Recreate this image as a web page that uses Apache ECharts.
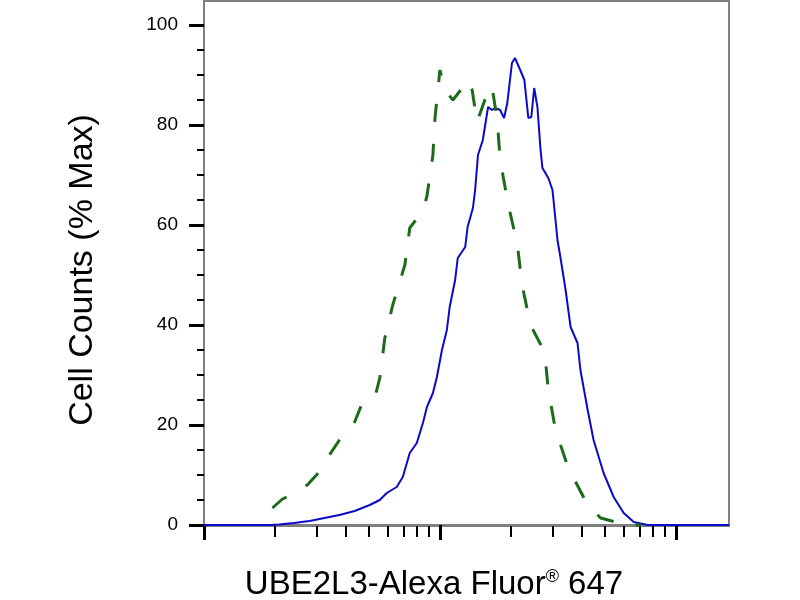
<!DOCTYPE html>
<html>
<head>
<meta charset="utf-8">
<script src="https://cdn.jsdelivr.net/npm/echarts@6/dist/echarts.min.js"></script>
<style>
  html, body { margin: 0; padding: 0; background: #fff; }
  #chart { width: 800px; height: 600px; }
</style>
</head>
<body>
<div id="chart"></div>
<script>
// fluorescence axis (log) range
const X_MIN = 10;
const X_MAX = 1680;
const X_MAJOR_TICKS = [10, 100, 1000];
const X_MINOR_TICKS = [20, 30, 40, 50, 60, 70, 80, 90, 200, 300, 400, 500, 600, 700, 800, 900];

// % Max axis
const Y_MIN = -0.2;
const Y_MAX = 104.8;
const Y_LABELS = [0, 20, 40, 60, 80, 100];
const Y_MINOR_TICKS = [5, 10, 15, 25, 30, 35, 45, 50, 55, 65, 70, 75, 85, 90, 95];

// stained sample (blue, solid)
const BLUE_X = [10, 14.1, 18.9, 20.8, 24.1, 28, 32.4, 37.5, 43.5, 50.4, 55.6, 59.5, 65.6, 69.6,
  74.5, 79.8, 84.7, 88.1, 93.4, 97.1, 102, 107, 110, 116, 119, 128, 131, 138, 141, 145, 152,
  160, 166, 171, 180, 187, 193, 202, 208, 219, 228, 237, 244, 251, 259, 267, 272, 288, 300,
  315, 324, 341, 358, 383, 394, 423, 448, 494, 545, 601, 663, 760, 1050, 1680];
const BLUE_Y = [0, 0, 0, 0.1, 0.4, 0.8, 1.4, 2.0, 2.8, 4.0, 5.0, 6.4, 7.6, 9.6,
  14.4, 16.4, 20.4, 23.6, 26.4, 29.6, 35, 39, 43.6, 49, 53.4, 55.6, 59.6, 63.4, 67, 74, 77,
  83.6, 83, 83.4, 83, 81.4, 84.4, 92.4, 93.4, 91, 89, 81.4, 81.6, 87.4, 83.6, 75, 71.4, 69.4, 67,
  57, 53.6, 47, 39.6, 36.4, 31, 23, 17, 10.4, 5.6, 2.4, 0.6, 0, 0, 0];

// control (green, dashed)
const GREEN_X = [19.5, 21.5, 23.5, 27.4, 30.8, 34, 37.5, 43.5, 46.5, 52.9, 55.6, 58.4, 63.1,
  71, 74.5, 85, 88.1, 93.4, 95.3, 100, 105, 113.5, 121.6, 131.5, 137, 143.6, 155, 166, 175,
  180, 195, 213, 223, 242, 272, 280, 288, 309, 350, 423, 480, 556, 645, 710];
const GREEN_Y = [3.4, 5.2, 6, 8, 10.6, 14, 17, 20.6, 24, 25.4, 29.4, 37.4, 44,
  52, 59.4, 63, 65.8, 74, 81.4, 91, 87, 85, 86.8, 89, 87, 80.6, 85, 87.8, 81,
  73, 64, 56, 48, 40, 35.4, 33, 27, 19, 11.4, 4, 1.4, 0.6, 0, 0];

const zip = (xs, ys) => xs.map((x, i) => [x, ys[i]]);

const labelFont = "'Liberation Sans', Arial, sans-serif";
const titleFont = "'Liberation Sans', Arial, sans-serif";
const GRAY = '#808080';

// tick-only axis sitting on the log of the values
function tickAxis(values, length, width) {
  return {
    type: 'value',
    min: Math.log10(X_MIN),
    max: Math.log10(X_MAX),
    position: 'bottom',
    axisLine: { show: false },
    axisTick: {
      show: true, length: length,
      customValues: values.map(v => Math.log10(v)),
      lineStyle: { color: '#000', width: width }
    },
    axisLabel: { show: false },
    splitLine: { show: false }
  };
}

const myChart = echarts.init(document.getElementById('chart'));

const option = {
  animation: false,
  backgroundColor: '#fff',
  grid: {
    left: 204, right: 71, top: 1, bottom: 74,
    show: true, borderColor: GRAY, borderWidth: 2
  },
  xAxis: [
    {
      type: 'log',
      logBase: 10,
      min: X_MIN,
      max: X_MAX,
      axisLine: { show: true, lineStyle: { color: GRAY, width: 2 } },
      axisTick: { show: false },
      axisLabel: { show: false },
      splitLine: { show: false }
    },
    tickAxis(X_MAJOR_TICKS, 15, 3),
    tickAxis(X_MINOR_TICKS, 11, 2)
  ],
  yAxis: [
    {
      type: 'value',
      min: Y_MIN,
      max: Y_MAX,
      axisLine: { show: true, lineStyle: { color: GRAY, width: 2 } },
      axisTick: {
        show: true, length: 15, customValues: Y_LABELS,
        lineStyle: { color: '#000', width: 3 }
      },
      axisLabel: {
        show: true, customValues: Y_LABELS, margin: 26,
        color: '#000', fontSize: 19, fontFamily: labelFont
      },
      splitLine: { show: false }
    },
    {
      type: 'value',
      min: Y_MIN,
      max: Y_MAX,
      position: 'left',
      axisLine: { show: false },
      axisTick: {
        show: true, length: 7, customValues: Y_MINOR_TICKS,
        lineStyle: { color: '#000', width: 2 }
      },
      axisLabel: { show: false },
      splitLine: { show: false }
    }
  ],
  graphic: [
    {
      type: 'text',
      x: 83, y: 270,
      rotation: Math.PI / 2,
      style: {
        text: 'Cell Counts (% Max)',
        font: '34px ' + titleFont,
        fill: '#000',
        align: 'center',
        verticalAlign: 'middle'
      }
    },
    {
      type: 'text',
      x: 434, y: 585,
      style: {
        text: 'UBE2L3-Alexa Fluor{sup|®} 647',
        font: '33px ' + titleFont,
        fill: '#000',
        align: 'center',
        verticalAlign: 'middle',
        rich: {
          sup: { fontSize: 18, fontFamily: titleFont, verticalAlign: 'top', padding: [0, 0, 14, 0] }
        }
      }
    }
  ],
  series: [
    {
      name: 'UBE2L3',
      type: 'line',
      data: zip(BLUE_X, BLUE_Y),
      showSymbol: false,
      lineStyle: { color: '#0a0ac8', width: 2 },
      z: 2
    },
    {
      name: 'Control',
      type: 'line',
      data: zip(GREEN_X, GREEN_Y),
      showSymbol: false,
      lineStyle: { color: '#1b6b1b', width: 3, type: [18, 22] },
      z: 3
    }
  ]
};

myChart.setOption(option);
</script>
</body>
</html>
